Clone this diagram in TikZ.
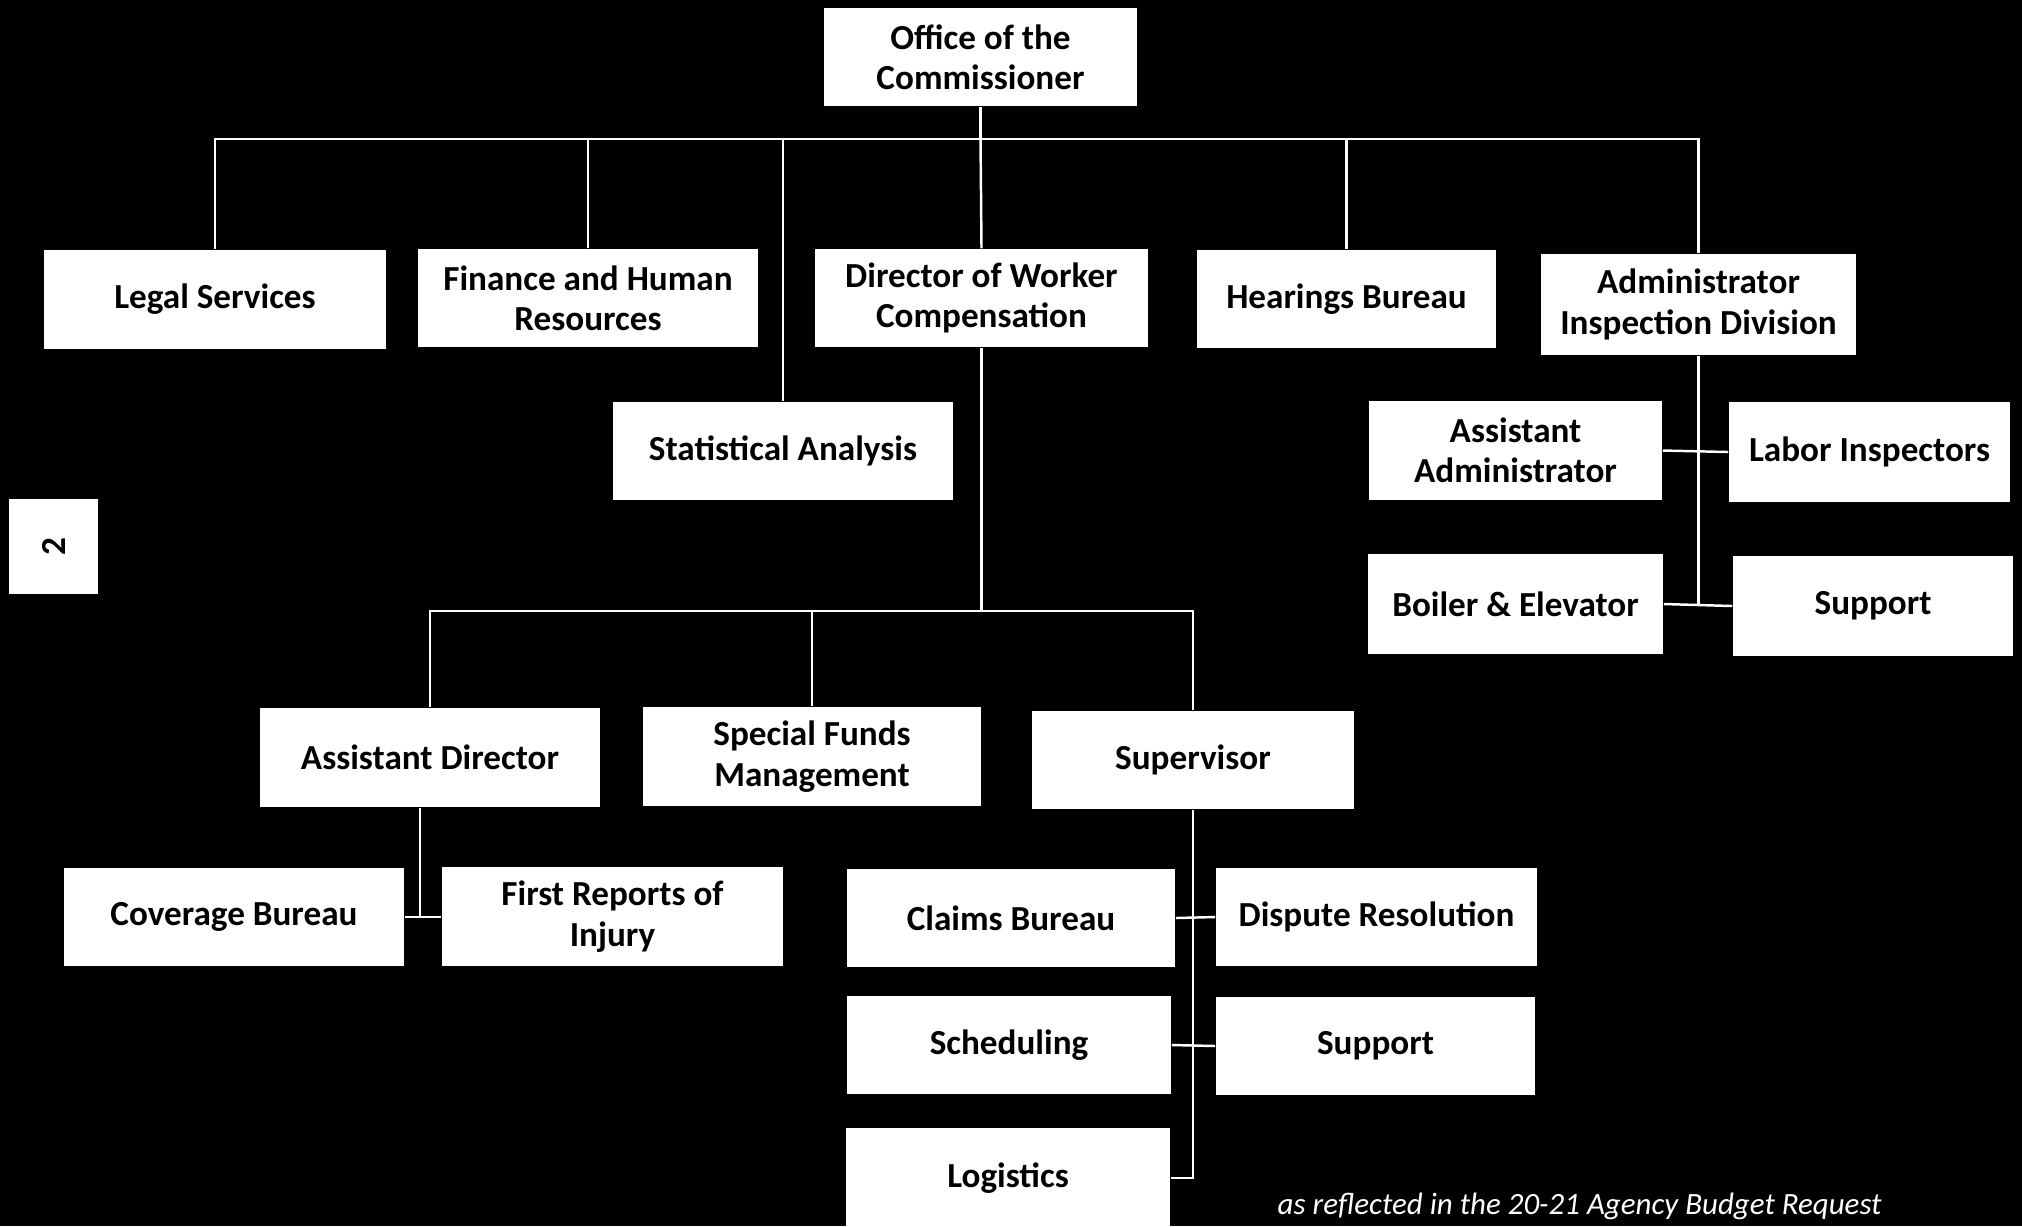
\documentclass[tikz,border=0pt]{standalone}
\usepackage{fontspec}
\setmainfont{Carlito}
\begin{document}
\begin{tikzpicture}[x=0.01cm,y=-0.01cm,
  bx/.style={fill=white,text=black,inner sep=0pt,align=center,
    font=\bfseries\fontsize{10}{11.5}\selectfont},
  conn/.style={draw=white,line width=0.7pt}]
\useasboundingbox (0,0) rectangle (2022,1226);
\clip (0,0) rectangle (2022,1226);
\fill[black] (0,0) rectangle (2022,1226);

% top level
\node[bx,minimum width=3.13cm,minimum height=0.98cm] (off) at (980.5,57) {Office of the\\Commissioner};
\node[bx,minimum width=3.42cm,minimum height=0.99cm] (legal) at (215,299.5) {Legal Services};
\node[bx,minimum width=3.40cm,minimum height=0.98cm] (fin) at (588,298) {Finance and Human\\Resources};
\node[bx,minimum width=3.33cm,minimum height=0.98cm] (dir) at (981.5,298) {Director of Worker\\Compensation};
\node[bx,minimum width=2.99cm,minimum height=0.98cm] (hear) at (1346.5,299) {Hearings Bureau};
\node[bx,minimum width=3.15cm,minimum height=1.01cm] (adm) at (1698.5,304.5) {Administrator\\Inspection Division};
\node[bx,minimum width=3.40cm,minimum height=0.98cm] (stat) at (783,451) {Statistical Analysis};

% page number
\node[bx,minimum width=0.89cm,minimum height=0.95cm] (pg) at (53.5,546.5) {\rotatebox{90}{2}};

% director branch
\node[bx,minimum width=3.40cm,minimum height=0.99cm] (ad) at (430,757.5) {Assistant Director};
\node[bx,minimum width=3.38cm,minimum height=0.99cm] (sfm) at (812,756.5) {Special Funds\\Management};
\node[bx,minimum width=3.22cm,minimum height=0.98cm] (sup) at (1193,760) {Supervisor};
\node[bx,minimum width=3.40cm,minimum height=0.98cm] (cov) at (234,917) {Coverage Bureau};
\node[bx,minimum width=3.41cm,minimum height=0.99cm] (fr) at (612.5,916.5) {First Reports of\\Injury};
\node[bx,minimum width=3.28cm,minimum height=0.98cm] (clm) at (1011,918) {Claims Bureau};
\node[bx,minimum width=3.21cm,minimum height=0.98cm] (disp) at (1376.5,917) {Dispute Resolution};
\node[bx,minimum width=3.24cm,minimum height=0.98cm] (sch) at (1009,1045) {Scheduling};
\node[bx,minimum width=3.19cm,minimum height=0.98cm] (supb) at (1375.5,1046) {Support};
\node[bx,minimum width=3.24cm,minimum height=1.00cm] (log) at (1008,1178) {Logistics};

% inspection branch
\node[bx,minimum width=2.93cm,minimum height=0.99cm] (aa) at (1515.5,450.5) {Assistant\\Administrator};
\node[bx,minimum width=2.81cm,minimum height=1.00cm] (lab) at (1869.5,452) {Labor Inspectors};
\node[bx,minimum width=2.95cm,minimum height=1.00cm] (boil) at (1515.5,604) {Boiler \& Elevator};
\node[bx,minimum width=2.80cm,minimum height=1.00cm] (supa) at (1873,606) {Support};

% note
\node[anchor=base west,inner sep=0pt,text=white,font=\itshape\fontsize{8.8}{10}\selectfont] (note) at (1277,1214) {as reflected in the 20-21 Agency Budget Request};

% connectors
\coordinate (bus) at (980.5,139);
\coordinate (lbus) at (981.5,611);
\coordinate (adj) at (420,917);
\draw[conn] (off.south) -- (bus);
\draw[conn] (legal.north) |- (bus);
\draw[conn] (fin.north) |- (bus);
\draw[conn] (dir.north) -- (bus);
\draw[conn] (hear.north) |- (bus);
\draw[conn] (adm.north) |- (bus);
\draw[conn] (stat.north) |- (bus);

\draw[conn] (dir.south) -- (lbus);
\draw[conn] (ad.north) |- (lbus);
\draw[conn] (sfm.north) |- (lbus);
\draw[conn] (sup.north) |- (lbus);

\draw[conn] (ad.south -| adj) -- (adj);
\draw[conn] (cov.east |- adj) -- (fr.west |- adj);

\draw[conn] (sup.south) |- (log.east);
\draw[conn] (clm.east) -- (disp.west);
\draw[conn] (sch.east) -- (supb.west);

\draw[conn] (adm.south) -- (adm.south |- boil.east);
\draw[conn] (aa.east) -- (lab.west);
\draw[conn] (boil.east) -- (supa.west);
\end{tikzpicture}
\end{document}
